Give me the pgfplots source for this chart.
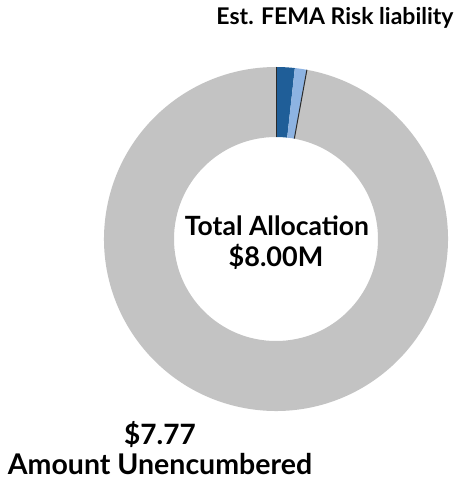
\documentclass[border=0pt]{standalone}
\usepackage{pgfplots}
\usepackage{pgfplotstable}
\pgfplotsset{compat=1.18}
\usepackage{fontspec}
\setmainfont{Lato}

\definecolor{riskdark}{HTML}{1F5E98}
\definecolor{risklight}{HTML}{8DB3E2}
\definecolor{unenc}{HTML}{C3C3C3}
\definecolor{edge}{HTML}{2B2B2B}

% allocation in $M
\pgfplotstableread{
part value
risk1 0.14
risk2 0.09
unencumbered 7.77
}\alloc

\pgfplotstablegetelem{0}{value}\of\alloc \let\vA\pgfplotsretval
\pgfplotstablegetelem{1}{value}\of\alloc \let\vB\pgfplotsretval
\pgfplotstablegetelem{2}{value}\of\alloc \let\vC\pgfplotsretval
\pgfmathsetmacro\tot{\vA+\vB+\vC}
\pgfmathsetmacro\aA{90}
\pgfmathsetmacro\aB{\aA-360*\vA/\tot}
\pgfmathsetmacro\aC{\aB-360*\vB/\tot}
\pgfmathsetmacro\aD{\aC-360*\vC/\tot}

% donut centre and radii (axis units = pt)
\def\cx{276}\def\cy{243}\def\Ro{172}\def\Ri{102}

\newcommand{\ringpart}[3]{%
  \fill[#1] (axis cs:{\cx+\Ro*cos(#2)},{\cy+\Ro*sin(#2)})
    arc[start angle=#2, end angle=#3, radius=\Ro pt]
    -- (axis cs:{\cx+\Ri*cos(#3)},{\cy+\Ri*sin(#3)})
    arc[start angle=#3, end angle=#2, radius=\Ri pt] -- cycle;}

\begin{document}
\begin{tikzpicture}[every node/.style={inner sep=0pt, anchor=base}]
\begin{axis}[
  width=460pt, height=482pt, scale only axis,
  xmin=0, xmax=460, ymin=0, ymax=482,
  hide axis, clip=false,
]
\ringpart{unenc}{\aC}{\aD}
\ringpart{riskdark}{\aA}{\aB}
\ringpart{risklight}{\aB}{\aC}
\draw[edge, line width=1pt] (axis cs:{\cx+\Ri*cos(\aA)},{\cy+\Ri*sin(\aA)}) -- (axis cs:{\cx+\Ro*cos(\aA)},{\cy+\Ro*sin(\aA)});
\draw[edge, line width=1pt] (axis cs:{\cx+\Ri*cos(\aC)},{\cy+\Ri*sin(\aC)}) -- (axis cs:{\cx+\Ro*cos(\aC)},{\cy+\Ro*sin(\aC)});

\node[font=\bfseries\fontsize{23}{28}\selectfont] at (axis cs:335,457) {Est. FEMA Risk liability};
\node[font=\bfseries\fontsize{26.5}{30}\selectfont] at (axis cs:277,246) {Total Allocation};
\node[font=\bfseries\fontsize{27}{32}\selectfont] at (axis cs:276,215) {\$8.00M};
\node[font=\bfseries\fontsize{28}{32}\selectfont] at (axis cs:160,37) {\$7.77};
\node[font=\bfseries\fontsize{28.5}{34}\selectfont] at (axis cs:160,7) {Amount Unencumbered};
\end{axis}
\pgfresetboundingbox
\path[use as bounding box] (0,0) rectangle (460pt,482pt);
\end{tikzpicture}
\end{document}
